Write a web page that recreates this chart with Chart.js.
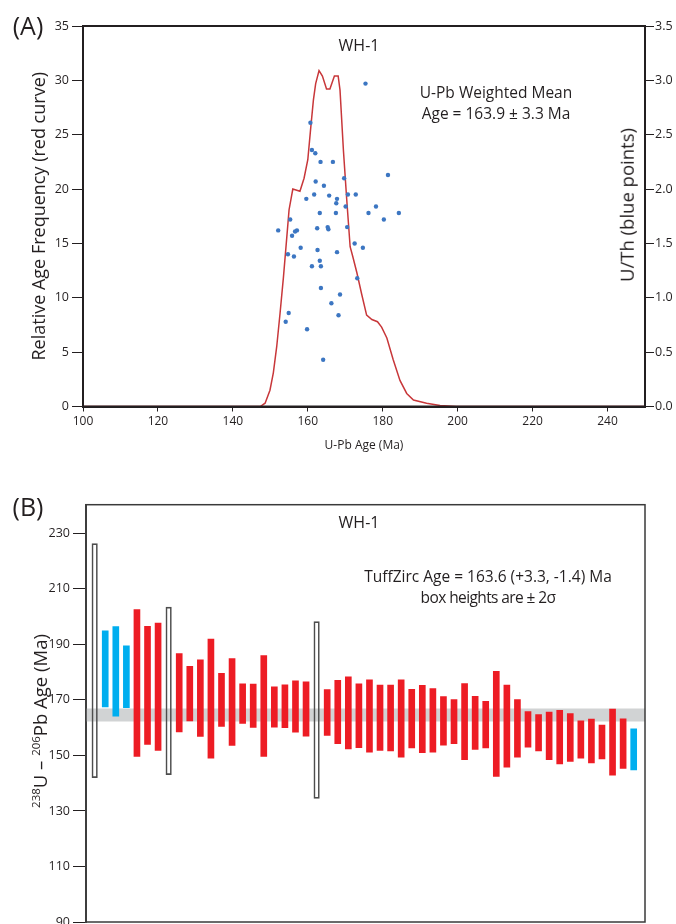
<!DOCTYPE html>
<html>
<head>
<meta charset="utf-8">
<script src="https://cdn.jsdelivr.net/npm/chart.js@4.4.1/dist/chart.umd.min.js"></script>
<style>
  body { margin: 0; background: #fff; }
  #page { position: relative; width: 676px; height: 924px; overflow: hidden; font-family: 'Open Sans', 'Noto Sans', sans-serif; color: #231f20; }
  canvas { position: absolute; left: 0; }
  #chartA { top: 0; }
  #chartB { top: 460px; }
  .lbl { position: absolute; white-space: nowrap; transform: translate(-50%, -50%); line-height: 1; }
  .rot { transform: translate(-50%, -50%) rotate(-90deg); }
  sup { font-size: 62%; vertical-align: 0.55em; line-height: 0; }
</style>
</head>
<body>
<div id="page">
  <canvas id="chartA" width="676" height="460"></canvas>
  <canvas id="chartB" width="676" height="490"></canvas>

  <div class="lbl" style="left:28px; top:25px; font-size:25px;">(A)</div>
  <div class="lbl" style="left:359px; top:45px; font-size:16px;">WH-1</div>
  <div class="lbl" style="left:496px; top:93px; font-size:15.5px;">U-Pb Weighted Mean</div>
  <div class="lbl" style="left:496px; top:114px; font-size:15.5px;">Age = 163.9 ± 3.3 Ma</div>
  <div class="lbl rot" style="left:627px; top:205px; font-size:18.5px;">U/Th (blue points)</div>

  <div class="lbl" style="left:28px; top:506px; font-size:25px;">(B)</div>
  <div class="lbl" style="left:359px; top:522px; font-size:16px;">WH-1</div>
  <div class="lbl" style="left:488px; top:577px; font-size:15.5px;">TuffZirc Age = 163.6 (+3.3, -1.4) Ma</div>
  <div class="lbl" style="left:488px; top:598px; font-size:15.5px; letter-spacing:-0.6px;">box heights are ± 2σ</div>
  <div class="lbl rot" style="left:40px; top:721px; font-size:18.5px;"><sup>238</sup>U – <sup>206</sup>Pb Age (Ma)</div>
</div>

<script>
// panel A: probability curve (red) and U/Th points (blue)
const curveAge  = [100, 147.3, 148.6, 149.9, 150.8, 151.7, 152.6, 153.5, 154.4, 155.0, 156.0, 157.9, 159.0, 160.0, 160.8, 161.5, 162.1, 163.0, 163.9, 165.0, 165.9, 167.1, 168.1, 168.6, 169.5, 170.4, 171.3, 172.0, 173.1, 174.4, 175.7, 177.1, 178.6, 179.7, 181.1, 182.8, 184.6, 186.4, 188.2, 191.7, 195.3, 199.7, 250];
const curveFreq = [0, 0, 0.3, 1.5, 3.1, 5.5, 8.6, 11.9, 15.6, 18.1, 20.0, 19.8, 21.0, 22.7, 25.7, 28.2, 29.7, 30.9, 30.4, 29.2, 29.2, 30.4, 30.4, 29.1, 23.6, 19.0, 14.7, 13.8, 12.3, 10.3, 8.4, 8.0, 7.8, 7.3, 6.3, 4.3, 2.4, 1.2, 0.6, 0.3, 0.1, 0, 0];

const pointAge = [175.4, 160.7, 161.1, 162.0, 163.4, 166.7, 169.7, 181.4, 162.1, 164.3, 159.6, 161.7, 165.7, 167.8, 170.7, 172.8, 167.6, 170.1, 178.2, 163.2, 167.5, 176.2, 184.3, 180.3, 155.3, 152.1, 162.5, 165.3, 165.5, 170.5, 157.1, 156.6, 155.8, 172.5, 174.7, 158.1, 162.6, 154.7, 156.3, 167.8, 163.2, 161.1, 163.5, 173.2, 163.5, 168.6, 166.3, 168.2, 154.9, 154.1, 159.8, 164.1];
const pointUTh = [2.97, 2.61, 2.36, 2.33, 2.25, 2.25, 2.10, 2.13, 2.07, 2.03, 1.91, 1.95, 1.94, 1.91, 1.95, 1.95, 1.87, 1.84, 1.84, 1.78, 1.78, 1.78, 1.78, 1.72, 1.72, 1.62, 1.64, 1.65, 1.63, 1.65, 1.62, 1.61, 1.57, 1.50, 1.46, 1.46, 1.44, 1.40, 1.38, 1.42, 1.34, 1.29, 1.29, 1.18, 1.09, 1.03, 0.95, 0.84, 0.86, 0.78, 0.71, 0.43];

const ageTicks  = [100, 120, 140, 160, 180, 200, 220, 240];
const freqTicks = [0, 5, 10, 15, 20, 25, 30, 35];
const uthTicks  = [0, 0.5, 1.0, 1.5, 2.0, 2.5, 3.0, 3.5];

// panel B: individual grain ages, 2 sigma boxes
// type: r = used (red), b = excluded young/old (blue), x = rejected (open box)
const grainLow  = [142.0, 167.5, 164.1, 167.2, 149.6, 154.0, 151.8, 143.1, 158.5, 162.4, 156.8, 149.0, 160.4, 153.6, 161.5, 160.1, 149.6, 160.2, 160.0, 158.4, 156.9, 134.5, 157.2, 154.2, 152.3, 152.8, 151.2, 151.8, 151.6, 149.4, 152.7, 151.0, 151.2, 153.7, 154.2, 148.5, 152.2, 152.7, 142.4, 145.8, 149.4, 153.0, 151.6, 148.5, 146.9, 147.8, 149.0, 147.3, 148.7, 142.9, 145.3, 144.8];
const grainHigh = [226.3, 194.9, 196.4, 189.5, 202.5, 196.5, 197.7, 203.4, 186.7, 182.1, 184.4, 191.9, 179.6, 184.9, 175.8, 175.7, 186.0, 174.7, 175.4, 176.9, 176.5, 198.2, 173.7, 177.0, 178.3, 175.8, 177.2, 175.3, 175.3, 177.2, 173.8, 175.2, 174.1, 171.2, 170.1, 175.9, 171.3, 169.5, 180.3, 175.3, 170.1, 165.8, 164.7, 165.6, 166.2, 165.1, 162.5, 163.1, 160.9, 166.7, 163.2, 159.6];
const grainType = ['x', 'b', 'b', 'b', 'r', 'r', 'r', 'x', 'r', 'r', 'r', 'r', 'r', 'r', 'r', 'r', 'r', 'r', 'r', 'r', 'r', 'x', 'r', 'r', 'r', 'r', 'r', 'r', 'r', 'r', 'r', 'r', 'r', 'r', 'r', 'r', 'r', 'r', 'r', 'r', 'r', 'r', 'r', 'r', 'r', 'r', 'r', 'r', 'r', 'r', 'r', 'b'];
const bandLow  = 162.2;
const bandHigh = 166.9;
const ageTicksB = [90, 110, 130, 150, 170, 190, 210, 230];

const DARK = '#231f20';
const RED_LINE = '#c8373a';
const BLUE_DOT = '#3c76c2';
const RED_BAR = '#ed1c24';
const BLUE_BAR = '#00aeef';
const BAND = '#d1d3d4';
const TXT = "'Open Sans', 'Noto Sans', sans-serif";
const TICK = "'Liberation Sans Narrow', 'Open Sans', sans-serif";

function setTicks(list) {
    return function (scale) {
        scale.ticks = list.map(v => ({ value: v }));
    };
}

// draws the box around the plot area
const framePlugin = {
    id: 'frame',
    afterDraw(chart, args, opts) {
        const a = chart.chartArea;
        const ctx = chart.ctx;
        ctx.save();
        ctx.strokeStyle = opts.color;
        ctx.lineWidth = opts.width;
        ctx.strokeRect(a.left, a.top, a.right - a.left, a.bottom - a.top);
        ctx.restore();
    }
};

// ---------- chart A ----------
const curvePts = curveAge.map((a, i) => ({ x: a, y: curveFreq[i] }));
const uthPts = pointAge.map((a, i) => ({ x: a, y: pointUTh[i] }));

new Chart(document.getElementById('chartA'), {
    type: 'scatter',
    data: {
        datasets: [
            {
                type: 'line',
                data: curvePts,
                yAxisID: 'y',
                borderColor: RED_LINE,
                borderWidth: 1.5,
                pointRadius: 0,
                tension: 0,
                fill: false,
                order: 2
            },
            {
                type: 'scatter',
                data: uthPts,
                yAxisID: 'y2',
                backgroundColor: BLUE_DOT,
                borderWidth: 0,
                pointRadius: 2.2,
                order: 1
            }
        ]
    },
    options: {
        responsive: false,
        animation: false,
        layout: { padding: { top: 26, left: 0, right: 0, bottom: 0 } },
        plugins: {
            legend: { display: false },
            tooltip: { enabled: false },
            frame: { color: DARK, width: 2 }
        },
        scales: {
            x: {
                type: 'linear',
                min: 100,
                max: 250,
                afterBuildTicks: setTicks(ageTicks),
                afterFit: s => { s.height = 53.5; },
                grid: { drawOnChartArea: false, tickLength: 5, color: DARK },
                border: { color: DARK, width: 2 },
                ticks: { font: { family: TICK, size: 12 }, color: DARK, padding: 3, maxRotation: 0 },
                title: { display: true, text: 'U-Pb Age (Ma)', font: { family: TICK, size: 12 }, color: DARK, padding: { top: 0, bottom: 7 } }
            },
            y: {
                position: 'left',
                min: 0,
                max: 35,
                afterBuildTicks: setTicks(freqTicks),
                afterFit: s => { s.width = 83; },
                grid: { drawOnChartArea: false, tickLength: 11, color: DARK },
                border: { color: DARK, width: 2 },
                ticks: { font: { family: TICK, size: 12.5 }, color: DARK, padding: 3 },
                title: { display: true, text: 'Relative Age Frequency (red curve)', font: { family: TXT, size: 18 }, color: DARK, padding: { top: 29, bottom: 0 } }
            },
            y2: {
                position: 'right',
                min: 0,
                max: 3.5,
                afterBuildTicks: setTicks(uthTicks),
                afterFit: s => { s.width = 31; },
                grid: { drawOnChartArea: false, tickLength: 9, color: DARK },
                border: { color: DARK, width: 2 },
                ticks: { font: { family: TICK, size: 12.5 }, color: DARK, padding: 1, callback: v => v.toFixed(1) }
            }
        }
    },
    plugins: [framePlugin]
});

// ---------- chart B ----------
const X_MIN = 0.18;
const X_MAX = 53.07;

function grainsOf(type) {
    const out = [];
    for (let i = 0; i < grainType.length; i++) {
        if (grainType[i] === type) {
            out.push({ x: i + 1, y: [grainLow[i], grainHigh[i]] });
        }
    }
    return out;
}

new Chart(document.getElementById('chartB'), {
    type: 'bar',
    data: {
        datasets: [
            {
                type: 'line',
                data: [{ x: X_MIN, y: bandLow }, { x: X_MAX, y: bandLow }],
                borderWidth: 0,
                pointRadius: 0,
                fill: false,
                order: 10
            },
            {
                type: 'line',
                data: [{ x: X_MIN, y: bandHigh }, { x: X_MAX, y: bandHigh }],
                borderWidth: 0,
                pointRadius: 0,
                fill: '-1',
                backgroundColor: BAND,
                order: 9
            },
            {
                data: grainsOf('r'),
                backgroundColor: RED_BAR,
                borderWidth: 0,
                barThickness: 6,
                grouped: false,
                order: 1
            },
            {
                data: grainsOf('b'),
                backgroundColor: BLUE_BAR,
                borderWidth: 0,
                barThickness: 6,
                grouped: false,
                order: 1
            },
            {
                data: grainsOf('x'),
                backgroundColor: 'rgba(0,0,0,0)',
                borderColor: '#4d4d4d',
                borderWidth: 1,
                borderSkipped: false,
                barThickness: 5.5,
                grouped: false,
                order: 1
            }
        ]
    },
    options: {
        responsive: false,
        animation: false,
        // chart runs past the page bottom; the page clips it at 924px
        layout: { padding: { top: 44.7, left: 0, right: 31, bottom: 28 } },
        plugins: {
            legend: { display: false },
            tooltip: { enabled: false },
            frame: { color: '#3a3a3a', width: 1.5 }
        },
        scales: {
            x: {
                type: 'linear',
                min: X_MIN,
                max: X_MAX,
                offset: false,
                display: false
            },
            y: {
                min: 90,
                max: 240.3,
                afterBuildTicks: setTicks(ageTicksB),
                afterFit: s => { s.width = 86; },
                grid: { drawOnChartArea: false, tickLength: 13, color: DARK },
                border: { color: '#4d4d4d', width: 2 },
                ticks: { font: { family: TICK, size: 12.5 }, color: DARK, padding: 3 }
            }
        }
    },
    plugins: [framePlugin]
});
</script>
</body>
</html>
